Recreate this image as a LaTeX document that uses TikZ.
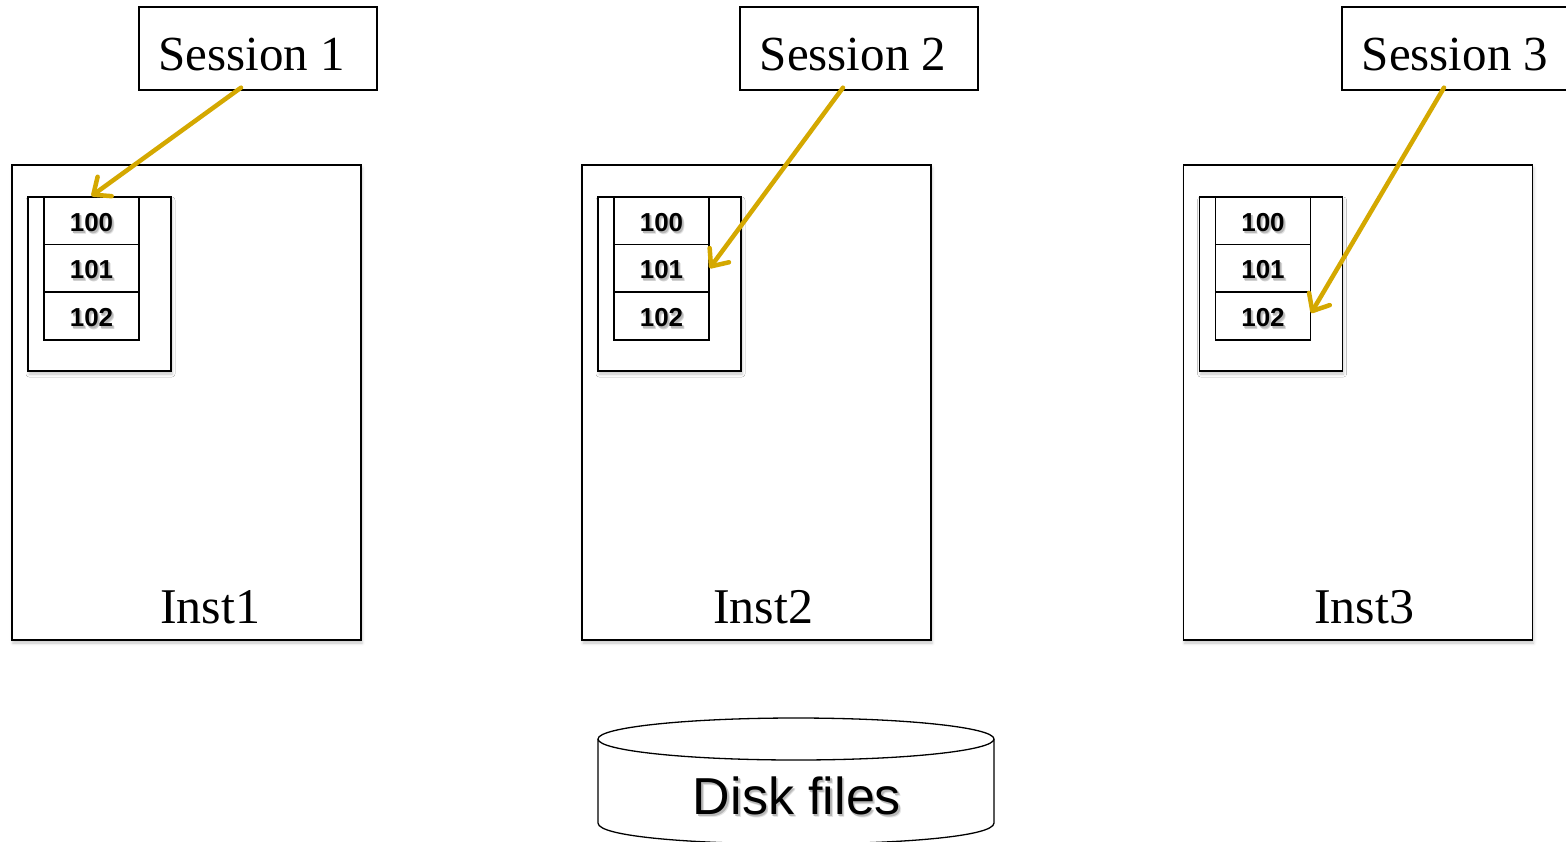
\documentclass[tikz,border=0pt]{standalone}
\usepackage{fontspec}
\setmainfont{Liberation Serif}
\setsansfont{Liberation Sans}
\usetikzlibrary{arrows.meta,shadows.blur}
\definecolor{pointer}{RGB}{212,168,0}

% text with a soft drop shadow, set in one box
\newcommand\shadowed[1]{\leavevmode
  \rlap{\raisebox{-3pt}{\hspace*{2.5pt}\textcolor{black!10}{#1}}}%
  \rlap{\raisebox{-2.5pt}{\hspace*{2pt}\textcolor{black!18}{#1}}}%
  \rlap{\raisebox{-2pt}{\hspace*{1.5pt}\textcolor{black!28}{#1}}}%
  #1}

\tikzset{
  frame/.style={draw,line width=1.3pt,inner sep=0pt},
  soft/.style={blur shadow={shadow xshift=1pt,shadow yshift=-3pt,
      shadow blur radius=3pt,shadow opacity=22}},
  sessbox/.style={frame,fill=white,minimum width=238pt,minimum height=83pt,
      text height=43pt,text depth=0pt,font=\fontsize{49}{54}\selectfont},
  instbox/.style={frame,fill=white,soft,minimum width=349pt,minimum height=475pt},
  poolbox/.style={frame,fill=white,soft,minimum width=143pt,minimum height=174pt},
  cell/.style={frame,minimum width=95pt,minimum height=47.7pt,
      text height=21pt,text depth=0pt,font=\cellfont},
  instlabel/.style={font=\fontsize{50}{54}\selectfont},
  pointerarrow/.style={draw=pointer,line width=4.5pt,line cap=round,
      -{Straight Barb[length=14pt,width=24pt,line cap=round,line join=round]}},
}
\newcommand\cellfont{\sffamily\bfseries\fontsize{26}{30}\selectfont}
\newcommand\diskfont{\sffamily\fontsize{52}{56}\selectfont}

\begin{document}
\begin{tikzpicture}[x=1pt,y=-1pt]
\useasboundingbox (0,0) rectangle (1566,841);

% instance frames with their block pools
\foreach \i/\off in {1/0,2/570,3/1171.5}{
  \node[instbox] (inst\i) at (186.5+\off,402.5) {};
  \node[poolbox] (pool\i) at (99.5+\off,284) {};
  \foreach \k/\y/\v in {0/220.5/100,1/268.2/101,2/316/102}{
    \node[cell] (c\i-\k) at (91.5+\off,\y) {\shadowed{\v}};
  }
}

\node[instlabel] (l1) at (210,607) {Inst1};
\node[instlabel] (l2) at (763,607) {Inst2};
\node[instlabel] (l3) at (1364,607) {Inst3};

% session boxes (labels sit a little left of centre)
\node[sessbox] (s1) at (258,48.5) {Session 1\hspace*{12pt}};
\node[sessbox] (s2) at (859,48.5) {Session 2\hspace*{12pt}};
\node[sessbox] (s3) at (1461,48.5) {Session 3\hspace*{12pt}};

% session pointers into the block pools
\draw[pointerarrow] ([xshift=-17pt,yshift=3pt]s1.south) -- (c1-0.north);
\draw[pointerarrow] ([xshift=-16pt,yshift=3pt]s2.south) -- (c2-1.east);
\draw[pointerarrow] ([xshift=-17pt,yshift=3pt]s3.south) -- ([yshift=3pt]c3-2.east);

% shared disk storage
\draw[line width=1.3pt,fill=white]
  (598,739) -- (598,823) .. controls (598,851) and (994,851) .. (994,823) -- (994,739);
\draw[line width=1.3pt,fill=white] (796,739) ellipse [x radius=198,y radius=21];
\node[font=\diskfont] (disk) at (797,797) {\shadowed{Disk files}};
\end{tikzpicture}
\end{document}
